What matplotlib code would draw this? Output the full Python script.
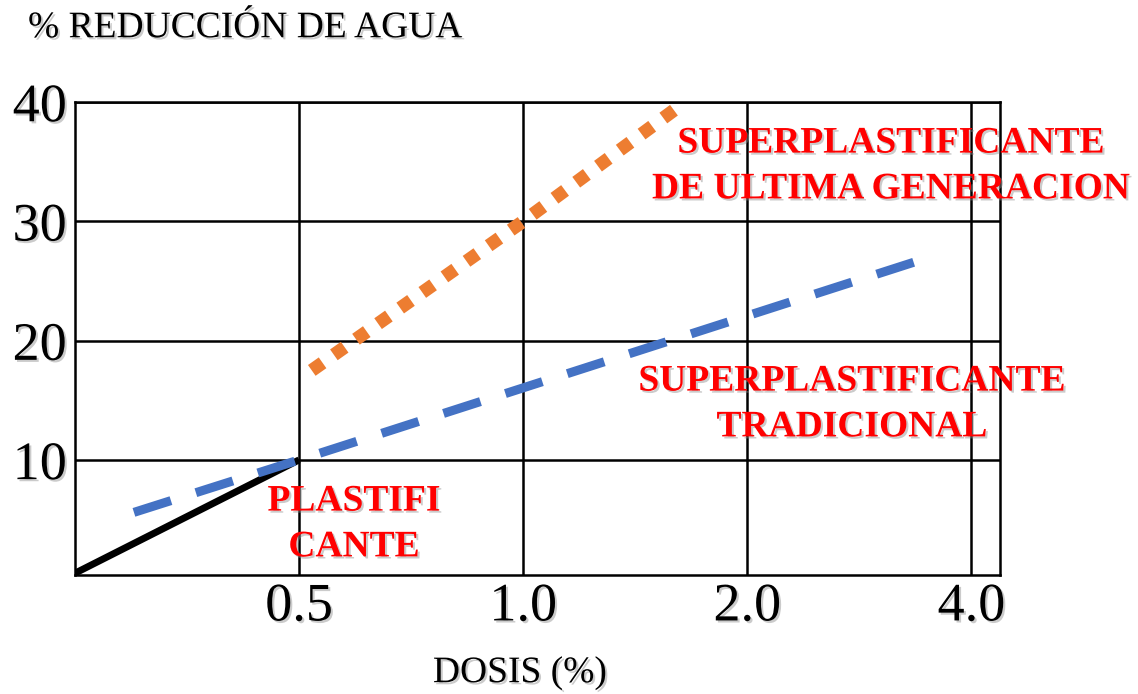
import matplotlib
matplotlib.use("Agg")
import matplotlib.pyplot as plt
import matplotlib.patheffects as pe

# dosis en escala log2 (0.5, 1, 2, 4 equiespaciados)
dosis_ticks = [0.5, 1.0, 2.0, 4.0]
dosis_labels = ["0.5", "1.0", "2.0", "4.0"]
reduccion_ticks = [10, 20, 30, 40]

# curvas de reducción de agua
plast_x = [0.25, 0.5]
plast_y = [0.5, 10]
trad_x = [0.30, 0.5, 3.36]
trad_y = [5.6, 10, 26.6]
ultima_x = [0.52, 1.0, 1.65]
ultima_y = [17.5, 30, 40]

sombra = [pe.SimplePatchShadow(offset=(1.5, -1.5), shadow_rgbFace="0.55", alpha=0.45), pe.Normal()]

plt.rcParams["font.family"] = ["Liberation Serif", "DejaVu Serif"]

fig = plt.figure(figsize=(11.38, 6.94), dpi=100)
ax = fig.add_axes([75/1138, 1-575/694, 925/1138, 473/694])

ax.set_xscale("log", base=2)
ax.set_xlim(0.25, 4.37)
ax.set_ylim(0.35, 40)

ax.plot(plast_x, plast_y, color="black", lw=5, solid_capstyle="butt", zorder=3)
ax.plot(trad_x, trad_y, color="#4472C4", lw=6.5, dashes=(4.3, 2.9),
        dash_capstyle="butt", zorder=4)
ax.plot(ultima_x, ultima_y, color="#ED7D31", lw=9.5, dashes=(1, 1.05),
        dash_capstyle="butt", zorder=4, clip_on=False)

ax.set_xticks(dosis_ticks)
ax.set_xticklabels(dosis_labels)
ax.xaxis.set_minor_locator(plt.NullLocator())
ax.set_yticks(reduccion_ticks)
ax.grid(True, color="black", lw=1.8)
ax.tick_params(length=0, labelsize=39)
ax.tick_params(axis="x", pad=5)
ax.tick_params(axis="y", pad=6)
for lab in ax.get_xticklabels() + ax.get_yticklabels():
    lab.set_path_effects(sombra)
for s in ax.spines.values():
    s.set_linewidth(1.8)

rojo = dict(color="#FF0000", fontsize=27, fontweight="bold", ha="center",
            va="center", linespacing=1.4, path_effects=sombra)
fig.text(891/1138, 1-166/694, "SUPERPLASTIFICANTE\nDE ULTIMA GENERACION", **rojo)
fig.text(852/1138, 1-404/694, "SUPERPLASTIFICANTE\nTRADICIONAL", **rojo)
fig.text(354/1138, 1-524/694, "PLASTIFI\nCANTE", **rojo)

fig.text(28/1138, 1-28/694, "% REDUCCIÓN DE AGUA", fontsize=27, va="center",
         ha="left", path_effects=sombra)
fig.text(520/1138, 1-673/694, "DOSIS (%)", fontsize=27, va="center",
         ha="center", path_effects=sombra)

fig.savefig("out.png", dpi=100)
